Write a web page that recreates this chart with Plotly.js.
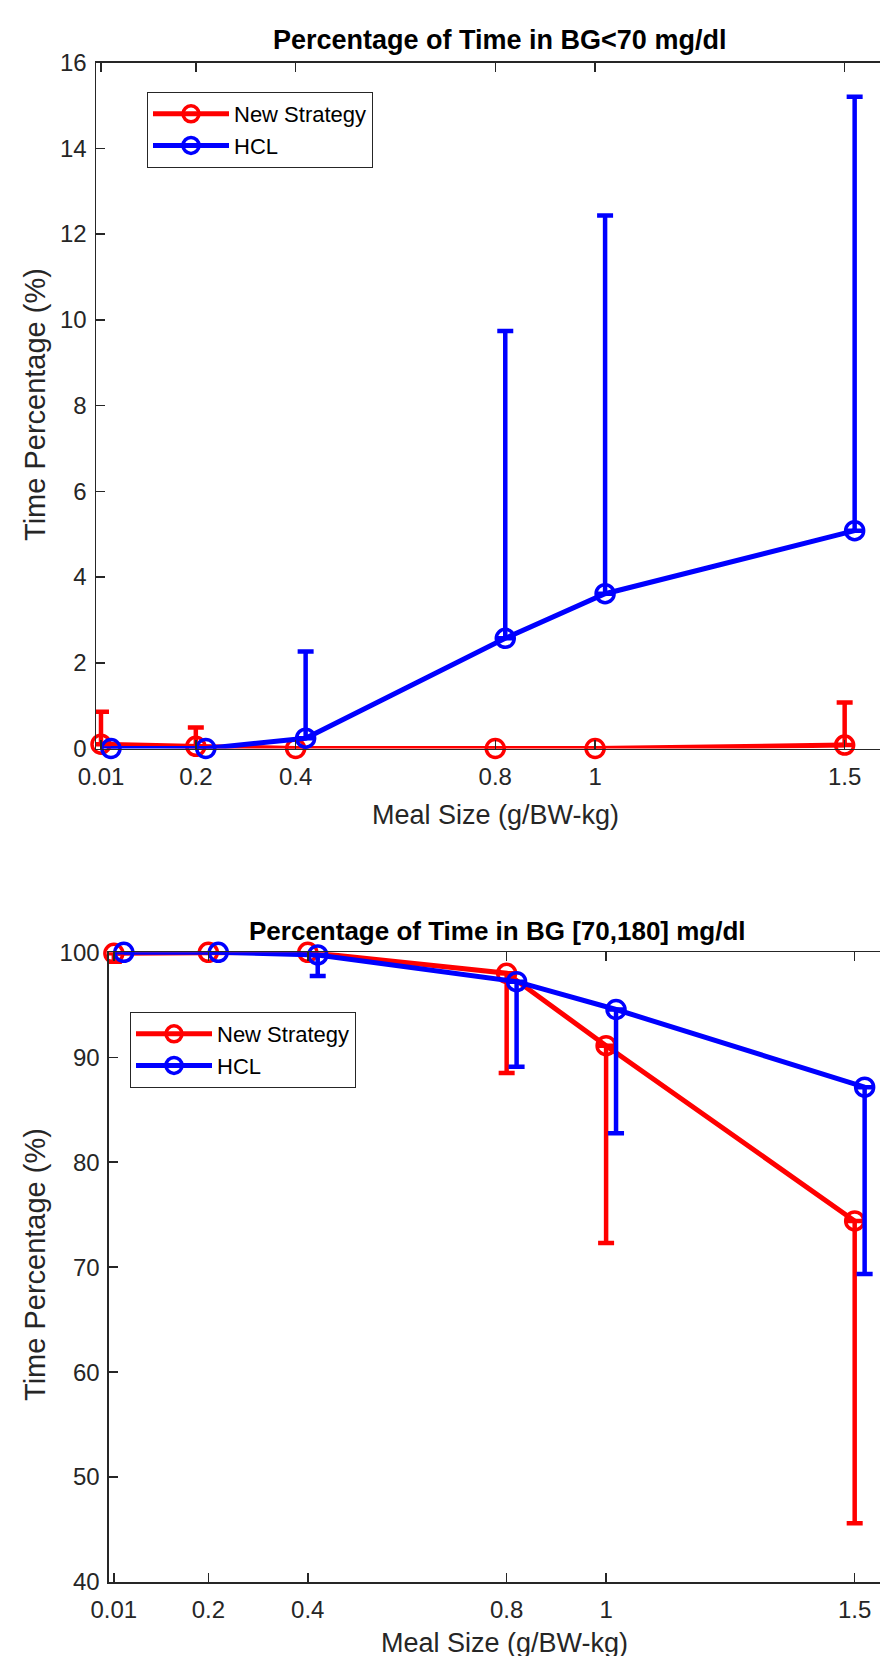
<!DOCTYPE html>
<html><head><meta charset="utf-8">
<script src="https://cdn.plot.ly/plotly-3.0.1.min.js"></script>
<style>html,body{margin:0;padding:0;overflow:hidden;background:#fff}</style>
</head><body><div id="chart" style="width:880px;height:1656px"></div>
<script>
// ---- data ----
const mealSize    = [0.01, 0.2, 0.4, 0.8, 1, 1.5];
const mealSizeHCL = [0.03, 0.22, 0.42, 0.82, 1.02, 1.52];
const tickVals = [0.01, 0.2, 0.4, 0.8, 1, 1.5];
const tickText = ['0.01', '0.2', '0.4', '0.8', '1', '1.5'];
// Top panel: % time BG<70 (mean, upper error)
const hypoNew    = [0.1, 0.05, 0, 0, 0, 0.08];
const hypoNewErr = [0.76, 0.44, 0, 0, 0, 0.99];
const hypoHCL    = [0, 0, 0.24, 2.57, 3.61, 5.08];
const hypoHCLErr = [0, 0, 2.02, 7.17, 8.82, 10.12];
// Bottom panel: % time BG in [70,180] (mean, lower error)
const tirNew    = [99.9, 100, 100, 98.0, 91.1, 74.4];
const tirNewErr = [0.8, 0, 0, 9.5, 18.8, 28.8];
const tirHCL    = [100, 100, 99.75, 97.2, 94.55, 87.15];
const tirHCLErr = [0, 0, 2.0, 8.1, 11.8, 17.8];
const zeros = [0, 0, 0, 0, 0, 0];
const seriesNames = ['New Strategy', 'HCL'];

// ---- style ----
const W = 880, H = 1656;
const px = x => x / W, py = y => 1 - y / H;
const FONT = 'Liberation Sans, Arial, Helvetica, sans-serif';
const AX = '#262626';
const RED = '#ff0000', BLUE = '#0000ff';

function tr(x, y, err, up, color, name, xa, ya, leg) {
  return {
    type: 'scatter', mode: 'lines+markers', x: x, y: y, name: name,
    xaxis: xa, yaxis: ya, legend: leg, cliponaxis: false,
    line: {color: color, width: 5},
    marker: {symbol: 'circle-open', color: color, size: 18, line: {width: 3.5}},
    error_y: {type: 'data', symmetric: false,
      array: up ? err : zeros, arrayminus: up ? zeros : err,
      color: color, thickness: 4.5, width: 8}
  };
}
const data = [
  tr(mealSize, hypoNew, hypoNewErr, true, RED, seriesNames[0], 'x', 'y', 'legend'),
  tr(mealSizeHCL, hypoHCL, hypoHCLErr, true, BLUE, seriesNames[1], 'x', 'y', 'legend'),
  tr(mealSize, tirNew, tirNewErr, false, RED, seriesNames[0], 'x2', 'y2', 'legend2'),
  tr(mealSizeHCL, tirHCL, tirHCLErr, false, BLUE, seriesNames[1], 'x2', 'y2', 'legend2')
];

const common = {
  showline: true, linecolor: AX, linewidth: 1.5, ticks: 'inside', ticklen: 9,
  tickwidth: 1.5, tickcolor: AX, showgrid: false, zeroline: false,
  tickfont: {family: FONT, size: 24, color: AX}
};
const xCommon = Object.assign({}, common, {mirror: 'ticks', tickmode: 'array',
  tickvals: tickVals, ticktext: tickText, ticklabelstandoff: 6});
const yCommon = Object.assign({}, common, {mirror: false, ticklabelstandoff: 3});

const legCommon = {
  xanchor: 'left', yanchor: 'top', bgcolor: '#ffffff', bordercolor: AX,
  borderwidth: 1, font: {family: FONT, size: 22, color: '#000'}, itemwidth: 76,
  tracegroupgap: 0
};

function ann(text, x, y, size, angle, color) {
  return {text: text, xref: 'paper', yref: 'paper', x: px(x), y: py(y),
    xanchor: 'center', yanchor: 'middle', showarrow: false, textangle: angle || 0,
    font: {family: FONT, size: size, color: color || AX}};
}

const layout = {
  width: W, height: H, margin: {l: 0, r: 0, t: 0, b: 0},
  paper_bgcolor: '#fff', plot_bgcolor: '#fff', showlegend: true,
  xaxis: Object.assign({}, xCommon, {domain: [px(96), 1], range: [0, 1.5708], anchor: 'y'}),
  yaxis: Object.assign({}, yCommon, {domain: [py(748.5), py(62.5)], range: [0, 16], dtick: 2, anchor: 'x'}),
  xaxis2: Object.assign({}, xCommon, {domain: [px(108.9), 1], range: [0, 1.5509], anchor: 'y2'}),
  yaxis2: Object.assign({}, yCommon, {domain: [py(1582), py(952.3)], range: [40, 100], dtick: 10, anchor: 'x2'}),
  legend: Object.assign({}, legCommon, {x: px(147), y: py(92)}),
  legend2: Object.assign({}, legCommon, {x: px(130), y: py(1012)}),
  annotations: [
    ann('<b>Percentage of Time in BG&lt;70 mg/dl</b>', 499, 40, 27, 0, '#000'),
    ann('<b>Percentage of Time in BG [70,180] mg/dl</b>', 497, 931, 26, 0, '#000'),
    ann('Meal Size (g/BW-kg)', 495, 815, 27),
    ann('Meal Size (g/BW-kg)', 504, 1643, 27),
    ann('Time Percentage (%)', 35, 405, 29, -90),
    ann('Time Percentage (%)', 35, 1265, 29, -90)
  ]
};

Plotly.newPlot('chart', data, layout, {displayModeBar: false, staticPlot: true});
</script></body></html>
